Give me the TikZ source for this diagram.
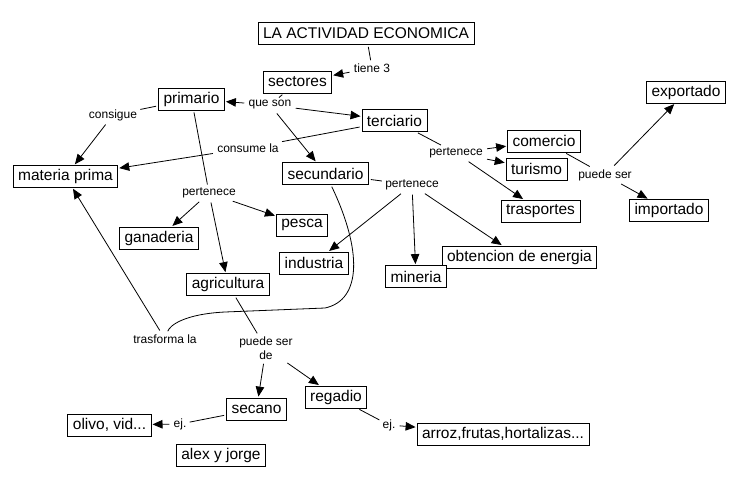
\documentclass[tikz,border=0pt]{standalone}
\usepackage{fontspec}
\setmainfont{Liberation Sans}
\usepackage{tikz}
\usetikzlibrary{arrows.meta}
\tikzstyle{concepto} = [rectangle, draw=black, line width=0.8pt, fill=white, font=\fontsize{15.5}{17}\selectfont, inner xsep=5pt, inner ysep=3pt, minimum height=22pt]
\tikzstyle{enlace} = [font=\fontsize{12}{14}\selectfont, inner sep=2pt, align=center]

\begin{document}
\begin{tikzpicture}[x=1pt, y=-1pt, line width=0.8pt, >={Triangle[length=10pt,width=8.5pt]}, shorten >=1pt, shorten <=2pt]
    \useasboundingbox (0,0) rectangle (740,488);
    \node (tit) [concepto] at (366,33.5) {LA ACTIVIDAD ECONOMICA};
    \node (sectores) [concepto] at (297.5,82) {sectores};
    \node (primario) [concepto] at (191.5,99) {primario};
    \node (terciario) [concepto] at (394.5,120.5) {terciario};
    \node (materia) [concepto] at (65.5,176.5) {materia prima};
    \node (secundario) [concepto] at (325.5,173.5) {secundario};
    \node (comercio) [concepto] at (544,141) {comercio};
    \node (turismo) [concepto] at (536.5,169) {turismo};
    \node (trasportes) [concepto] at (540.5,211) {trasportes};
    \node (exportado) [concepto] at (686,92) {exportado};
    \node (importado) [concepto] at (669,210.5) {importado};
    \node (ganaderia) [concepto] at (159,238) {ganaderia};
    \node (pesca) [concepto] at (302,225) {pesca};
    \node (industria) [concepto] at (314,263) {industria};
    \node (energia) [concepto] at (519.5,257) {obtencion de energia};
    \node (mineria) [concepto] at (416,276.5) {mineria};
    \node (agricultura) [concepto] at (228,284.5) {agricultura};
    \node (secano) [concepto] at (256.5,409) {secano};
    \node (regadio) [concepto] at (336,397) {regadio};
    \node (olivo) [concepto] at (109.5,425) {olivo, vid...};
    \node (arroz) [concepto] at (503,434) {arroz,frutas,hortalizas...};
    \node (alex) [concepto] at (221,455.5) {alex y jorge};

    \node (tiene) [enlace] at (372,68) {tiene 3};
    \node (queson) [enlace] at (270,105) {que son};
    \node (consigue) [enlace] at (113,115) {consigue};
    \node (consume) [enlace] at (248,148) {consume la};
    \node (pertsec) [enlace] at (412,185) {pertenece};
    \node (pertter) [enlace] at (456,153) {pertenece};
    \node (puedecom) [enlace] at (605,175) {puede ser};
    \node (pertprim) [enlace] at (209,193) {pertenece};
    \node (trasforma) [enlace] at (165,339) {trasforma la};
    \node (puedeagr) [enlace] at (266,348) {puede ser\\de};
    \node (ejsec) [enlace] at (180,424) {ej.};
    \node (ejreg) [enlace] at (389,425) {ej.};

    \draw (tit) -- (tiene);
    \draw[->] (tiene) -- (sectores);

    \draw (sectores) -- (queson);
    \draw[->] (queson) -- (primario);
    \draw[->] (queson) -- (terciario);
    \draw[->] (queson) -- (secundario);

    \draw (primario) -- (consigue);
    \draw[->] (consigue) -- (materia);
    \draw (terciario) -- (consume);
    \draw[->] (consume) -- (materia);

    \draw (primario) -- (pertprim);
    \draw[->] (pertprim) -- (ganaderia);
    \draw[->] (pertprim) -- (pesca);
    \draw[->] (pertprim) -- (agricultura);

    \draw (secundario) -- (pertsec);
    \draw[->] (pertsec) -- (industria);
    \draw[->] (pertsec) -- (mineria);
    \draw[->] (pertsec) -- (energia);

    \draw (terciario) -- (pertter);
    \draw[->] (pertter) -- (comercio);
    \draw[->] (pertter) -- (turismo);
    \draw[->] (pertter) -- (trasportes);

    \draw (comercio) -- (puedecom);
    \draw[->] (puedecom) -- (exportado);
    \draw[->] (puedecom) -- (importado);

    \draw (secundario) .. controls (362,250) and (362,300) .. (325,308) -- (225,312) .. controls (185,314) and (170,325) .. (trasforma);
    \draw[->] (trasforma) -- (materia);

    \draw (agricultura) -- (puedeagr);
    \draw[->] (puedeagr) -- (secano);
    \draw[->] (puedeagr) -- (regadio);

    \draw (secano) -- (ejsec);
    \draw[->] (ejsec) -- (olivo);
    \draw (regadio) -- (ejreg);
    \draw[->] (ejreg) -- (arroz);
\end{tikzpicture}
\end{document}
